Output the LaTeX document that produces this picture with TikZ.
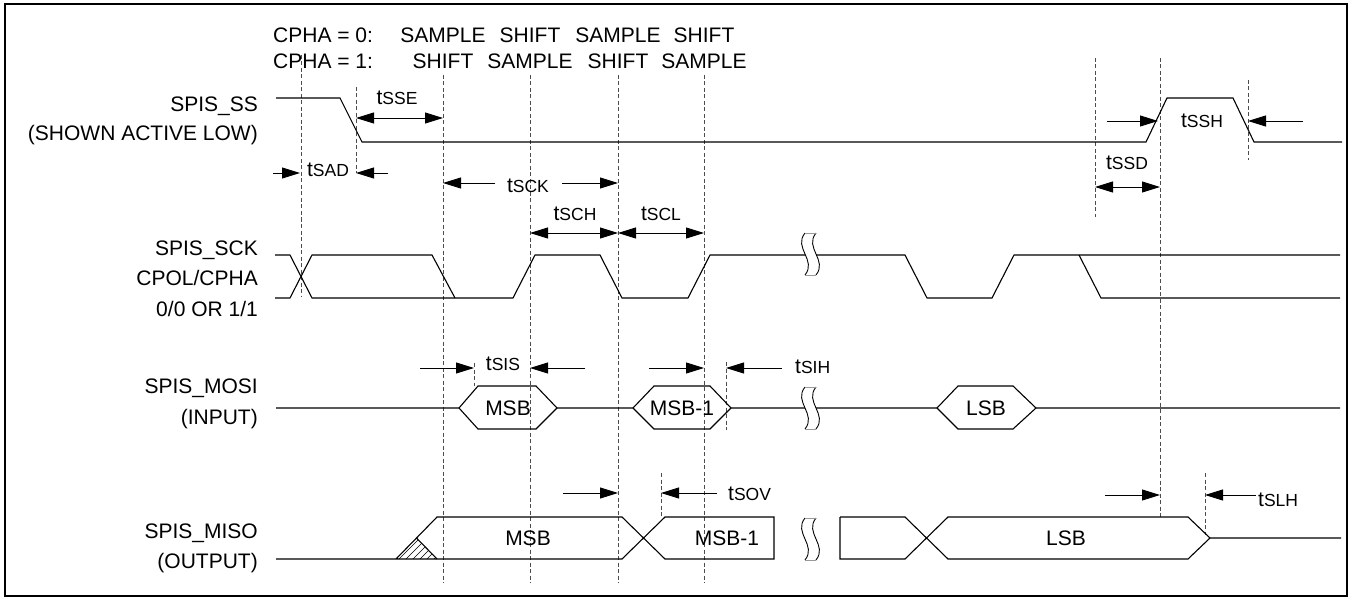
\documentclass[tikz,border=0pt]{standalone}
\usepackage{fontspec}
\setmainfont{Liberation Sans}
\usetikzlibrary{arrows.meta}

\newcommand{\tsub}[1]{t{\fontsize{17.5}{18}\selectfont #1}}

\begin{document}
\begin{tikzpicture}
[x=1pt,y=-1pt]
\tikzset{
	sig/.style = {line width=1.1pt},
	guide/.style = {line width=0.8pt, black!70, dash pattern=on 4pt off 2.5pt},
	dimarrow/.style = {line width=0.9pt, -{Triangle[length=18pt,width=11pt]}},
	dimboth/.style = {line width=0.9pt, {Triangle[length=18pt,width=11pt]}-{Triangle[length=18pt,width=11pt]}},
	signame/.style = {anchor=base east, inner sep=0},
	tlabel/.style = {anchor=base, inner sep=0},
	every node/.style = {font=\fontsize{21}{25}\selectfont}
}
\useasboundingbox (0,0) rectangle (1350,599);
\draw [line width=1.5pt] (5,4) rectangle (1347,596);

% phase header
\node (cpha0) [anchor=base west, inner sep=0] at (273,43) {CPHA = 0:};
\node (cpha1) [anchor=base west, inner sep=0] at (273,69) {CPHA = 1:};
\node (s01) [tlabel] at (443,43) {SAMPLE};
\node (s02) [tlabel] at (530,43) {SHIFT};
\node (s03) [tlabel] at (618,43) {SAMPLE};
\node (s04) [tlabel] at (704,43) {SHIFT};
\node (s11) [tlabel] at (443,69) {SHIFT};
\node (s12) [tlabel] at (530,69) {SAMPLE};
\node (s13) [tlabel] at (618,69) {SHIFT};
\node (s14) [tlabel] at (704,69) {SAMPLE};

% signal names
\node (ss) [signame] at (258,112) {SPIS\_SS};
\node (ss2) [signame] at (258,141) {(SHOWN ACTIVE LOW)};
\node (sck) [signame] at (258,255) {SPIS\_SCK};
\node (sck2) [signame] at (258,285) {CPOL/CPHA};
\node (sck3) [signame] at (258,316) {0/0 OR 1/1};
\node (mosi) [signame] at (258,393) {SPIS\_MOSI};
\node (mosi2) [signame] at (258,424) {(INPUT)};
\node (miso) [signame] at (258,538) {SPIS\_MISO};
\node (miso2) [signame] at (258,568) {(OUTPUT)};

% guide lines
\draw [guide] (301,55) -- (301,297);
\draw [guide] (356,87) -- (356,173);
\foreach \gx in {443,530,618,704}
	\draw [guide] (\gx,75) -- (\gx,583);
\draw [guide] (1095,58) -- (1095,217);
\draw [guide] (1160,58) -- (1160,517);
\draw [guide] (1248,80) -- (1248,160);
\draw [guide] (474,363) -- (474,386);
\draw [guide] (726,362) -- (726,430);
\draw [guide] (661,473) -- (661,517);
\draw [guide] (1205,473) -- (1205,535);

% SPIS_SS
\draw [sig] (276,98) -- (340,98) -- (362,142) -- (1146,142) -- (1167,98) -- (1233,98) -- (1254,142) -- (1342,142);

% SPIS_SCK
\draw [sig] (275,255) -- (290,255) -- (312,298) -- (513,298) -- (535,255) -- (600,255) -- (622,298) -- (688,298) -- (710,255) -- (905,255) -- (927,298) -- (992,298) -- (1014,255) -- (1340,255);
\draw [sig] (275,298) -- (290,298) -- (312,255) -- (432,255) -- (455,298);
\draw [sig] (1079,255) -- (1101,298) -- (1340,298);

% SPIS_MOSI
\draw [sig] (276,408) -- (459,408) -- (478,386) -- (536,386) -- (557,408) -- (633,408) -- (654,386) -- (710,386) -- (731,408) -- (937,408) -- (958,386) -- (1013,386) -- (1036,408) -- (1340,408);
\draw [sig] (459,408) -- (478,429) -- (536,429) -- (557,408);
\draw [sig] (633,408) -- (654,429) -- (710,429) -- (731,408);
\draw [sig] (937,408) -- (958,429) -- (1013,429) -- (1036,408);
\node (mosi-msb) at (508,408) {MSB};
\node (mosi-msb1) at (682,408) {MSB-1};
\node (mosi-lsb) at (986,408) {LSB};

% SPIS_MISO
\begin{scope}
	\clip (396,559) -- (416.5,538) -- (437,559) -- cycle;
	\foreach \hx in {399,406,...,438}
		\draw [line width=0.5pt] (\hx,559) -- ++(25,-25);
\end{scope}
\draw [sig] (276,559) -- (622,559) -- (665,517) -- (774,517) -- (774,559) -- (665,559) -- (622,517) -- (437,517) -- (396,559);
\draw [sig] (416.5,538) -- (437,559);
\draw [sig] (840,517) -- (840,559) -- (905,559) -- (948,517) -- (1188,517) -- (1210,538) -- (1341,538);
\draw [sig] (840,517) -- (905,517) -- (948,559) -- (1188,559) -- (1210,538);
\node (miso-msb) at (528,538) {MSB};
\node (miso-msb1) at (727,538) {MSB-1};
\node (miso-lsb) at (1066,538) {LSB};

% breaks
\foreach \by in {254,408,539}{
	\fill [white] (805,\by-21) .. controls (793,\by-6) and (817,\by+6) .. (805,\by+21) -- (816,\by+21) .. controls (828,\by+6) and (804,\by-6) .. (816,\by-21) -- cycle;
	\draw [line width=0.9pt] (805,\by-21) .. controls (793,\by-6) and (817,\by+6) .. (805,\by+21);
	\draw [line width=0.9pt] (816,\by-21) .. controls (804,\by-6) and (828,\by+6) .. (816,\by+21);
	\draw [line width=0.9pt, black!40] (805,\by-21) -- (816,\by-21) (805,\by+21) -- (816,\by+21);
}

% timing arrows
\draw [dimarrow] (273,173) -- (300,173);
\draw [dimarrow] (388,173) -- (356,173);
\node (tsad) [tlabel] at (328,177) {\tsub{SAD}};
\draw [dimboth] (356,118) -- (443,118);
\node (tsse) [tlabel] at (397,105) {\tsub{SSE}};
\draw [dimarrow] (495,183) -- (443,183);
\draw [dimarrow] (562,183) -- (618,183);
\node (tsck) [tlabel] at (528,193) {\tsub{SCK}};
\draw [dimboth] (530,233) -- (618,233);
\node (tsch) [tlabel] at (575,220) {\tsub{SCH}};
\draw [dimboth] (618,233) -- (704,233);
\node (tscl) [tlabel] at (661,220) {\tsub{SCL}};
\draw [dimboth] (1095,187) -- (1160,187);
\node (tssd) [tlabel] at (1127,170) {\tsub{SSD}};
\draw [dimarrow] (1107,121) -- (1158,121);
\draw [dimarrow] (1303,121) -- (1248,121);
\node (tssh) [tlabel] at (1202,128) {\tsub{SSH}};
\draw [dimarrow] (420,368) -- (474,368);
\draw [dimarrow] (585,368) -- (530,368);
\node (tsis) [tlabel] at (503,370) {\tsub{SIS}};
\draw [dimarrow] (649,368) -- (704,368);
\draw [dimarrow] (782,368) -- (726,368);
\node (tsih) [anchor=base west, inner sep=0] at (795,373) {\tsub{SIH}};
\draw [dimarrow] (563,493) -- (618,493);
\draw [dimarrow] (717,493) -- (661,493);
\node (tsov) [anchor=base west, inner sep=0] at (728,500) {\tsub{SOV}};
\draw [dimarrow] (1105,495) -- (1160,495);
\draw [dimarrow] (1256,495) -- (1205,495);
\node (tslh) [anchor=base west, inner sep=0] at (1258,506) {\tsub{SLH}};
\end{tikzpicture}
\end{document}
